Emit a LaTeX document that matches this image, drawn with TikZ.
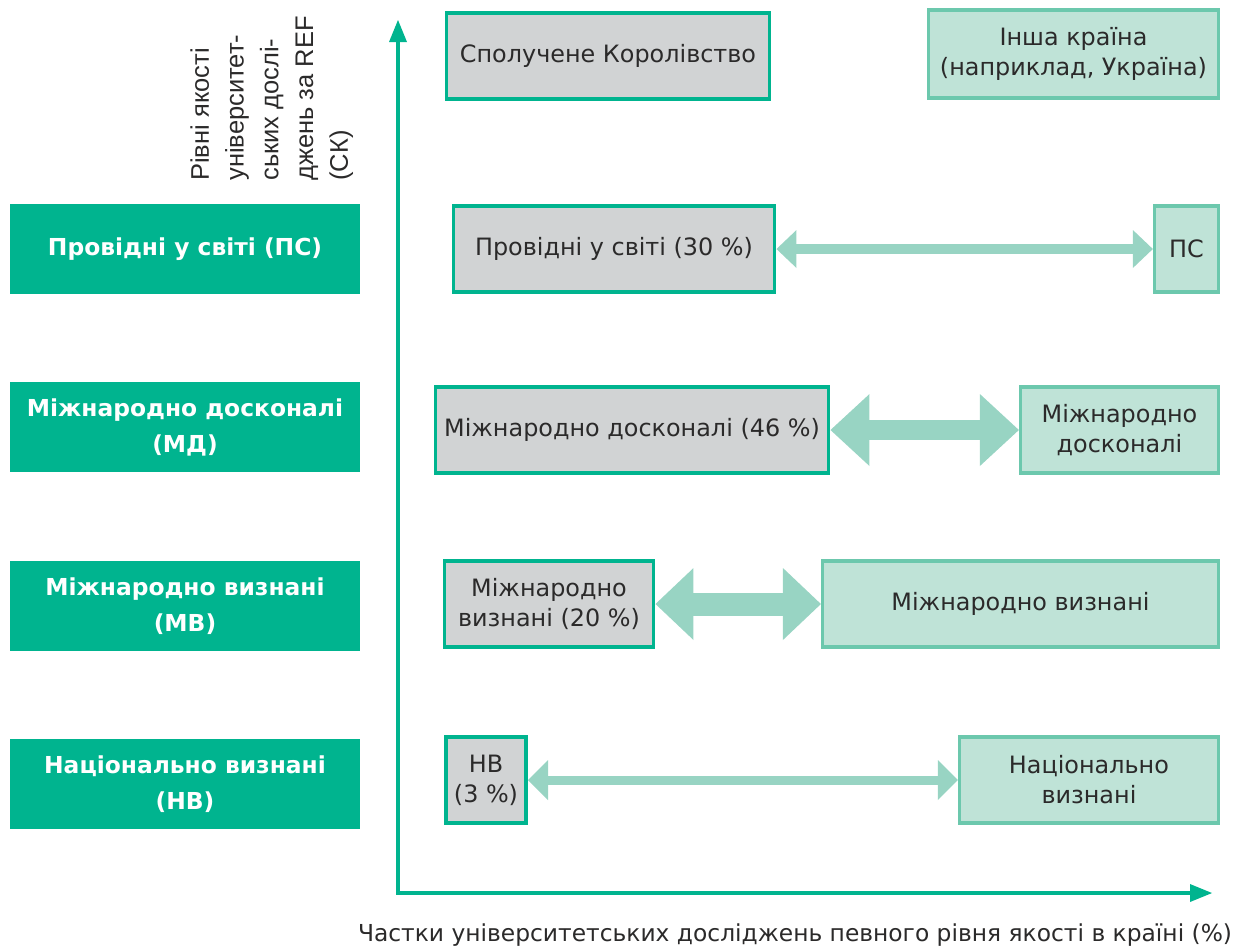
\documentclass[tikz,border=0pt]{standalone}
\usepackage{fontspec}
\setmainfont{DejaVu Sans}
\newfontfamily\axisfont{Liberation Sans}
\usetikzlibrary{arrows.meta,positioning}

\definecolor{refteal}{HTML}{00B48F}
\definecolor{refgrey}{HTML}{D1D3D4}
\definecolor{refmint}{HTML}{BFE3D7}
\definecolor{refmintline}{HTML}{6CC8AD}
\definecolor{reflink}{HTML}{98D4C3}
\definecolor{reftext}{HTML}{2B2A2A}

\begin{document}
\begin{tikzpicture}[
  x=0.02cm, y=-0.02cm,
  levelbox/.style={rectangle, fill=refteal, text=white, font=\fontsize{13.3}{20.5}\selectfont\bfseries, align=center, inner sep=0pt, minimum width=7cm, minimum height=1.8cm},
  ukbox/.style={rectangle, draw=refteal, fill=refgrey, line width=2pt, text=reftext, font=\fontsize{13.6}{17}\selectfont, align=center, inner sep=0pt, minimum height=1.72cm},
  otherbox/.style={rectangle, draw=refmintline, fill=refmint, line width=1.8pt, text=reftext, font=\fontsize{13.6}{17}\selectfont, align=center, inner sep=0pt, minimum height=1.72cm, anchor=east},
  axisline/.style={line width=2.6pt, refteal, arrows={Triangle[length=0.44cm, width=0.36cm, line width=0pt]-Triangle[length=0.44cm, width=0.36cm, line width=0pt]}},
  linkarrow/.style n args={3}{draw=reflink, line width=#1, arrows={Triangle[length=#2, width=#3, line width=0pt]-Triangle[length=#2, width=#3, line width=0pt]}},
  ylabel/.style={font=\axisfont\fontsize{14.5}{19.8}\selectfont, text=reftext, align=left, inner sep=0pt},
  xlabel/.style={font=\fontsize{13.3}{15}\selectfont, text=reftext, inner sep=0pt}
]
\useasboundingbox (0,0) rectangle (1239,948);

% Axes
\coordinate (ytip) at (398,20);
\coordinate (origin) at (398,893);
\coordinate (xtip) at (1212,893);
\draw[axisline] (ytip) -- (origin) -- (xtip);

\node[ylabel, rotate=90, anchor=north west] (ylab) at (190,181) {Рівні якості\\університет-\\ських дослі-\\джень за REF\\(СК)};
\node[xlabel] (xlab) at (795,935) {Частки університетських досліджень певного рівня якості в країні (\%)};

% Quality levels
\node[levelbox] (ps) at (185,249) {Провідні у світі (ПС)};
\node[levelbox] (md) at (185,427) {Міжнародно досконалі\\(МД)};
\node[levelbox] (mv) at (185,606) {Міжнародно визнані\\(МВ)};
\node[levelbox] (nv) at (185,784) {Національно визнані\\(НВ)};

% United Kingdom
\node[ukbox, minimum width=6.47cm] (uk) at (608,56) {Сполучене Королівство};
\node[ukbox, minimum width=6.43cm] (ukps) at (614,249) {Провідні у світі (30~\%)};
\node[ukbox, minimum width=7.87cm] (ukmd) at (632,430) {Міжнародно досконалі (46~\%)};
\node[ukbox, minimum width=4.19cm] (ukmv) at (549,604) {Міжнародно\\визнані (20~\%)};
\node[ukbox, minimum width=1.61cm] (uknv) at (486,780) {НВ\\(3~\%)};

% Other country
\node[otherbox, minimum width=5.8cm, minimum height=1.76cm] (ua) at (1220,54) {Інша країна\\(наприклад, Україна)};
\node[otherbox, minimum width=1.28cm] (uaps) at (1220,249) {ПС};
\node[otherbox, minimum width=3.96cm] (uamd) at (1220,430) {Міжнародно\\досконалі};
\node[otherbox, minimum width=7.92cm] (uamv) at (1220,604) {Міжнародно визнані};
\node[otherbox, minimum width=5.18cm] (uanv) at (1220,780) {Національно\\визнані};

% Links
\draw[linkarrow={0.2cm}{0.4cm}{0.76cm}] (ukps) -- (uaps);
\draw[linkarrow={0.4cm}{0.78cm}{1.44cm}] (ukmd) -- (uamd);
\draw[linkarrow={0.46cm}{0.76cm}{1.44cm}] (ukmv) -- (uamv);
\draw[linkarrow={0.18cm}{0.4cm}{0.8cm}] (uknv) -- (uanv);

\end{tikzpicture}
\end{document}
